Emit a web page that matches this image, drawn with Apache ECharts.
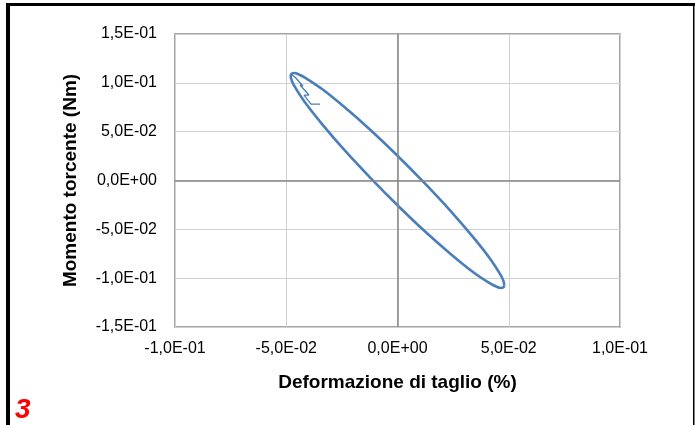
<!DOCTYPE html>
<html>
<head>
<meta charset="utf-8">
<script src="https://cdn.jsdelivr.net/npm/echarts@6/dist/echarts.min.js"></script>
<style>
html,body{margin:0;padding:0;background:#fff;}
#chart{width:695px;height:425px;}
</style>
</head>
<body>
<div id="chart"></div>
<script>
// Hysteresis loop (x: Deformazione di taglio, y: Momento torcente)
var loopX = [0.0480, 0.0476, 0.0464, 0.0443, 0.0416, 0.0339, 0.0240, 0.0124, 0.0000, -0.0124, -0.0240, -0.0339, -0.0416, -0.0464, -0.0476, -0.0480, -0.0476, -0.0464, -0.0443, -0.0416, -0.0339, -0.0240, -0.0124, 0.0000, 0.0124, 0.0240, 0.0339, 0.0416, 0.0464, 0.0476, 0.0480];
var loopY = [-0.1070, -0.1094, -0.1100, -0.1086, -0.1054, -0.0936, -0.0754, -0.0522, -0.0253, 0.0033, 0.0316, 0.0578, 0.0801, 0.0969, 0.1028, 0.1070, 0.1094, 0.1100, 0.1086, 0.1054, 0.0936, 0.0754, 0.0522, 0.0253, -0.0033, -0.0316, -0.0578, -0.0801, -0.0969, -0.1028, -0.1070];
// Initial transient near the upper-left tip
var startX = [-0.0348, -0.0389, -0.0420, -0.0398, -0.0438, -0.0425, -0.0461, -0.0479];
var startY = [0.0783, 0.0783, 0.0875, 0.0875, 0.0978, 0.0968, 0.1060, 0.1090];
// Axis settings
var xMin = -0.1, xMax = 0.1, xStep = 0.05;
var yMin = -0.15, yMax = 0.15, yStep = 0.05;
var xTitle = 'Deformazione di taglio (%)';
var yTitle = 'Momento torcente (Nm)';
var panelLabel = '3';

function fmt(v) {
  if (Math.abs(v) < 1e-12) return '0,0E+00';
  var s = v.toExponential(1);
  var parts = s.split('e');
  var mant = parts[0].replace('.', ',');
  var ex = parseInt(parts[1], 10);
  var sign = ex < 0 ? '-' : '+';
  var a = Math.abs(ex);
  return mant + 'E' + sign + (a < 10 ? '0' + a : '' + a);
}
function pairs(xs, ys) {
  var out = [];
  for (var i = 0; i < xs.length; i++) out.push([xs[i], ys[i]]);
  return out;
}

var font = '"Liberation Sans", Arial, sans-serif';
var chart = echarts.init(document.getElementById('chart'), null, {renderer: 'canvas'});
chart.setOption({
  animation: false,
  backgroundColor: '#ffffff',
  grid: {left: 175, right: 75, top: 34, bottom: 98, show: true, borderColor: '#868686', borderWidth: 1.5, backgroundColor: 'transparent'},
  xAxis: {
    type: 'value', min: xMin, max: xMax, interval: xStep,
    name: xTitle, nameLocation: 'middle', nameGap: 46,
    nameTextStyle: {fontFamily: font, fontWeight: 'bold', fontSize: 19, color: '#000'},
    axisLine: {show: false}, axisTick: {show: false},
    axisLabel: {formatter: fmt, fontFamily: font, fontSize: 16, color: '#000', margin: 14},
    splitLine: {show: true, lineStyle: {color: '#d0d0d0', width: 1}}
  },
  yAxis: {
    type: 'value', min: yMin, max: yMax, interval: yStep,
    name: yTitle, nameLocation: 'middle', nameGap: 95,
    nameTextStyle: {fontFamily: font, fontWeight: 'bold', fontSize: 19, color: '#000'},
    axisLine: {show: false}, axisTick: {show: false},
    axisLabel: {formatter: fmt, fontFamily: font, fontSize: 16, color: '#000', margin: 18},
    splitLine: {show: true, lineStyle: {color: '#d0d0d0', width: 1}}
  },
  series: [
    {
      type: 'line', data: pairs(loopX, loopY), smooth: 0.35, showSymbol: false,
      lineStyle: {color: '#4a7ebb', width: 2.6},
      markLine: {
        silent: true, symbol: 'none', label: {show: false},
        lineStyle: {color: '#868686', width: 1.5, type: 'solid'},
        data: [{xAxis: 0}, {yAxis: 0}]
      },
      z: 3
    },
    {
      type: 'line', data: pairs(startX, startY), showSymbol: false,
      lineStyle: {color: '#4a7ebb', width: 1.3}, z: 3
    }
  ],
  graphic: [
    {type: 'rect', shape: {x: 6, y: 3, width: 689, height: 3}, style: {fill: '#000'}},
    {type: 'rect', shape: {x: 6, y: 3, width: 4, height: 422}, style: {fill: '#000'}},
    {type: 'rect', shape: {x: 693, y: 3, width: 1.5, height: 422}, style: {fill: '#000'}},
    {type: 'text', left: 15, top: 396, style: {text: panelLabel, fill: '#ff0000', font: 'italic bold 28px "Liberation Sans", Arial, sans-serif'}}
  ]
});
</script>
</body>
</html>
